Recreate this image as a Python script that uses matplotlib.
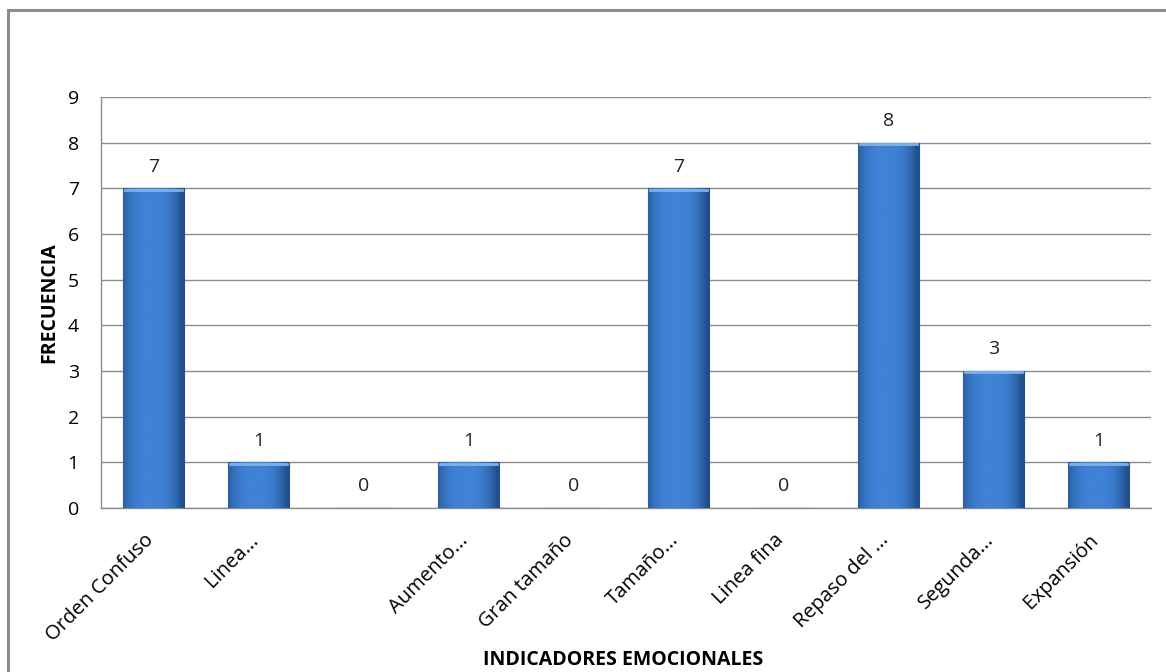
import matplotlib.pyplot as plt
import matplotlib.transforms as mtransforms
import numpy as np
from matplotlib.patches import Rectangle

categories = ["Orden Confuso", "Linea...", "", "Aumento...", "Gran tamaño",
              "Tamaño...", "Linea fina", "Repaso del ...", "Segunda...", "Expansión"]
values = [7, 1, 0, 1, 0, 7, 0, 8, 3, 1]
yticks = list(range(0, 10))

plt.rcParams['font.family'] = ['Open Sans', 'DejaVu Sans']

fig = plt.figure(figsize=(11.66, 6.72), dpi=100)
ax = fig.add_axes([101/1166, 1 - 508/672, 1050/1166, 411/672])

# outer chart frame
fig.patches.append(Rectangle((8/1166, -0.02), 1.05, 1 - 10/672 + 0.02,
                             transform=fig.transFigure, fill=False,
                             edgecolor='#8c8c8c', linewidth=2.2))

x = np.arange(len(categories))
bars = ax.bar(x, values, width=0.59, color='#3b77c4', edgecolor='#2d5a94',
              linewidth=0.8, zorder=3)

# horizontal shading on the bars
grad = np.linspace(0, 1, 256)
shade = 1 - 0.55 * (np.abs(grad - 0.45) * 2) ** 3
cmap = plt.matplotlib.colors.LinearSegmentedColormap.from_list(
    'b', ['#22508c', '#3f82d6'])
for b in bars:
    if b.get_height() == 0:
        continue
    x0, w, h = b.get_x(), b.get_width(), b.get_height()
    im = ax.imshow(shade[np.newaxis, :], cmap=cmap, vmin=0.45, vmax=1,
                   extent=[x0, x0 + w, 0, h], aspect='auto', zorder=3.5)
    im.set_clip_path(b)
    ax.plot([x0 + 0.02, x0 + w - 0.02], [h - 0.03, h - 0.03],
            color='#7fb0ea', linewidth=2, zorder=4)

for xi, v in zip(x, values):
    ax.text(xi, v + 0.28, str(v), ha='center', va='bottom', fontsize=14,
            color='#222222')

ax.set_xlim(-0.5, len(categories) - 0.5)
ax.set_ylim(0, 9)
ax.set_yticks(yticks)
ax.set_yticklabels([str(t) for t in yticks], fontsize=14)
ax.set_xticks(x)
ax.set_xticklabels(categories, rotation=45, ha='right', rotation_mode='anchor',
                   fontsize=14.5)
ax.tick_params(axis='both', length=0)
ax.tick_params(axis='y', pad=16)
ax.tick_params(axis='x', pad=16)
shift = mtransforms.ScaledTranslation(-10/100, 0, fig.dpi_scale_trans)
for lbl in ax.get_xticklabels():
    lbl.set_transform(lbl.get_transform() + shift)
ax.grid(axis='y', color='#8c8c8c', linewidth=1, zorder=0)
for s in ax.spines.values():
    s.set_color('#8c8c8c')
    s.set_linewidth(1)
ax.spines['top'].set_visible(False)
ax.spines['right'].set_visible(False)

ax.set_ylabel('FRECUENCIA', fontsize=14, fontweight='bold', labelpad=6)
fig.text(623/1166, 1 - 660/672, 'INDICADORES EMOCIONALES', ha='center',
         va='center', fontsize=14, fontweight='bold')

fig.savefig('out.png', dpi=100)
